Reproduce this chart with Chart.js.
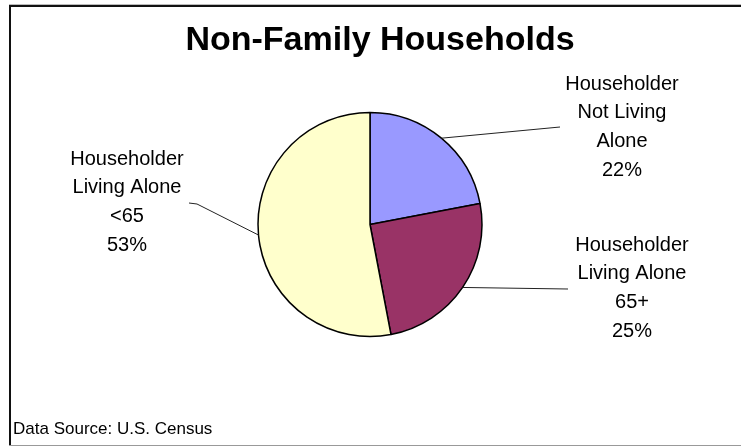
<!DOCTYPE html>
<html>
<head>
<meta charset="utf-8">
<script src="https://cdn.jsdelivr.net/npm/chart.js@4.4.0/dist/chart.umd.min.js"></script>
<style>
  html, body { margin: 0; padding: 0; background: #fff; }
  #wrap { position: relative; width: 741px; height: 447px; }
</style>
</head>
<body>
<div id="wrap"><canvas id="myChart" width="741" height="447"></canvas></div>
<script>
const title = "Non-Family Households";
const source = "Data Source: U.S. Census";
const categories = ["Householder Not Living Alone", "Householder Living Alone 65+", "Householder Living Alone <65"];
const labelLines = [
  ["Householder", "Not Living", "Alone"],
  ["Householder", "Living Alone", "65+"],
  ["Householder", "Living Alone", "<65"],
];
const values = [22, 25, 53];
const colors = ["#9999FF", "#993366", "#FFFFCC"];

// label placement: text centre x, first line y, leader line end points
const labelPos = [
  { x: 622, y: 84, end: [[560, 127]] },
  { x: 632, y: 245, end: [[568, 289]] },
  { x: 127, y: 159, end: [[197, 204], [189, 203]] },
];
const lineGap = 28.7;
const font = "'Liberation Sans', Arial, sans-serif";

const labelsPlugin = {
  id: "labels",
  beforeDraw(chart) {
    const ctx = chart.ctx;
    ctx.save();
    // chart frame
    ctx.fillStyle = "#bbb";
    ctx.fillRect(9, 4, 732, 1);
    ctx.fillStyle = "#111";
    ctx.fillRect(9, 5, 732, 2);
    ctx.fillRect(9, 5, 2, 441);
    ctx.fillStyle = "#999";
    ctx.fillRect(9, 445, 732, 1);
    ctx.restore();
  },
  afterDatasetsDraw(chart) {
    const ctx = chart.ctx;
    const meta = chart.getDatasetMeta(0);
    ctx.save();
    ctx.fillStyle = "#000";
    ctx.textAlign = "center";
    ctx.textBaseline = "middle";
    ctx.font = "bold 34px " + font;
    ctx.fillText(title, 380, 41);

    ctx.textAlign = "left";
    ctx.font = "17px " + font;
    ctx.fillText(source, 13, 429);

    ctx.font = "20px " + font;
    meta.data.forEach((arc, i) => {
      const p = arc.getProps(["x", "y", "startAngle", "endAngle", "outerRadius"], true);
      const mid = (p.startAngle + p.endAngle) / 2;
      const pos = labelPos[i];
      ctx.beginPath();
      ctx.moveTo(p.x + Math.cos(mid) * p.outerRadius, p.y + Math.sin(mid) * p.outerRadius);
      pos.end.forEach(pt => ctx.lineTo(pt[0], pt[1]));
      ctx.lineWidth = 1;
      ctx.strokeStyle = "#222";
      ctx.stroke();

      ctx.textAlign = "center";
      const lines = labelLines[i].concat([values[i] + "%"]);
      lines.forEach((t, j) => ctx.fillText(t, pos.x, pos.y + j * lineGap));
    });
    ctx.restore();
  }
};

new Chart(document.getElementById("myChart"), {
  type: "pie",
  data: {
    labels: categories,
    datasets: [{
      data: values,
      backgroundColor: colors,
      borderColor: "#000",
      borderWidth: 1.5,
      radius: 112,
    }],
  },
  options: {
    responsive: false,
    animation: false,
    events: [],
    layout: { padding: { top: 60, bottom: 58, left: 0, right: 1 } },
    plugins: {
      legend: { display: false },
      tooltip: { enabled: false },
    },
  },
  plugins: [labelsPlugin],
});
</script>
</body>
</html>
